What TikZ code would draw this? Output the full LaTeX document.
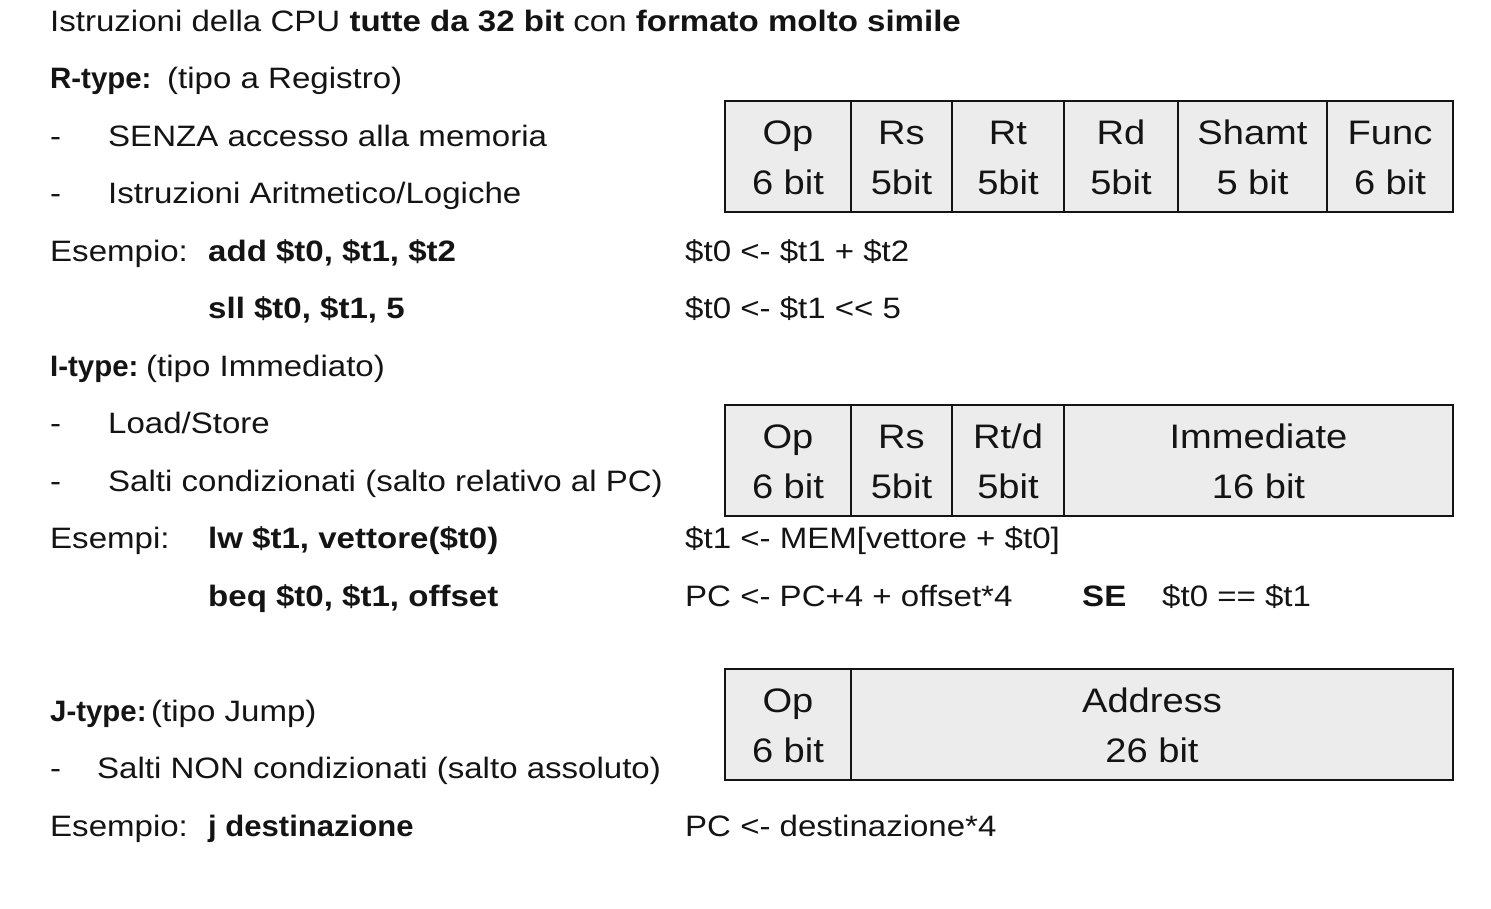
\documentclass[tikz,border=0pt]{standalone}
\usepackage{graphicx}
\usepackage{fontspec}
\setmainfont[FakeStretch=1.12]{Liberation Sans}
\usetikzlibrary{calc}
\definecolor{cellfill}{RGB}{236,236,236}
\definecolor{ink}{RGB}{20,20,20}
% bold format label, set a little narrower
\newcommand{\fmtlabel}[1]{\scalebox{0.89}[1]{\textbf{#1}}}
\begin{document}
\begin{tikzpicture}[x=1pt,y=-1pt,
  txt/.style={anchor=base west,inner sep=0pt,text=ink,font=\fontsize{29.5}{34}\selectfont},
  cell/.style={draw=ink,line width=2pt,fill=cellfill,anchor=north west,inner sep=0pt,minimum height=111pt},
  celltxt/.style={anchor=base,inner sep=0pt,text=ink,font=\fontsize{34}{40}\selectfont}]
\useasboundingbox (0,0) rectangle (1491,908);
\fill[white] (0,0) rectangle (1491,908);

% heading
\node[txt] (title) at (50,31) {Istruzioni della CPU \textbf{tutte da 32 bit} con \textbf{formato molto simile}};

% R-type
\node[txt] (rtype) at (50,88.5) {\fmtlabel{R-type:}};
\node[txt] (rtypedesc) at (167,88.5) {(tipo a Registro)};
\node[txt] (rd1) at (50,146) {-};
\node[txt] (r1) at (108,146) {SENZA accesso alla memoria};
\node[txt] (rd2) at (50,203.5) {-};
\node[txt] (r2) at (108,203.5) {Istruzioni Aritmetico/Logiche};
\node[txt] (rex) at (50,261) {Esempio:};
\node[txt] (radd) at (208,261) {\textbf{add \$t0, \$t1, \$t2}};
\node[txt] (raddsem) at (685,261) {\$t0 <- \$t1 + \$t2};
\node[txt] (rsll) at (208,318.5) {\textbf{sll \$t0, \$t1, 5}};
\node[txt] (rsllsem) at (685,318.5) {\$t0 <- \$t1 <{}< 5};

% I-type
\node[txt] (itype) at (50,376) {\fmtlabel{I-type:}};
\node[txt] (itypedesc) at (146,376) {(tipo Immediato)};
\node[txt] (id1) at (50,433.5) {-};
\node[txt] (i1) at (108,433.5) {Load/Store};
\node[txt] (id2) at (50,491) {-};
\node[txt] (i2) at (108,491) {Salti condizionati (salto relativo al PC)};
\node[txt] (iex) at (50,548.5) {Esempi:};
\node[txt] (ilw) at (208,548.5) {\textbf{lw \$t1, vettore(\$t0)}};
\node[txt] (ilwsem) at (685,548.5) {\$t1 <- MEM[vettore + \$t0]};
\node[txt] (ibeq) at (208,606) {\textbf{beq \$t0, \$t1, offset}};
\node[txt] (ibeqsem) at (685,606) {PC <- PC+4 + offset*4};
\node[txt] (ise) at (1082,606) {\textbf{SE}};
\node[txt] (icond) at (1162,606) {\$t0 == \$t1};

% J-type
\node[txt] (jtype) at (50,721) {\fmtlabel{J-type:}};
\node[txt] (jtypedesc) at (151,721) {(tipo Jump)};
\node[txt] (jd1) at (50,778.5) {-};
\node[txt] (j1) at (97,778.5) {Salti NON condizionati (salto assoluto)};
\node[txt] (jex) at (50,836) {Esempio:};
\node[txt] (jj) at (208,836) {\scalebox{0.94}[1]{\textbf{j destinazione}}};
\node[txt] (jsem) at (685,836) {PC <- destinazione*4};

% R-type instruction format
\foreach \n/\xa/\xb/\ta/\tb in {ra/724/850/Op/6 bit, rb/850/951/Rs/5bit, rc/951/1063/Rt/5bit,
    rd/1063/1177/Rd/5bit, re/1177/1326/Shamt/5 bit, rf/1326/1452/Func/6 bit}{
  \node[cell,minimum width=\xb pt-\xa pt] (\n) at (\xa,100) {};
  \node[celltxt] (\n t1) at ($(\n.north)+(0,44)$) {\ta};
  \node[celltxt] (\n t2) at ($(\n.north)+(0,94)$) {\tb};
}

% I-type instruction format
\foreach \n/\xa/\xb/\ta/\tb in {ia/724/850/Op/6 bit, ib/850/951/Rs/5bit, ic/951/1063/{Rt/d}/5bit,
    id/1063/1452/Immediate/16 bit}{
  \node[cell,minimum width=\xb pt-\xa pt] (\n) at (\xa,404) {};
  \node[celltxt] (\n t1) at ($(\n.north)+(0,44)$) {\ta};
  \node[celltxt] (\n t2) at ($(\n.north)+(0,94)$) {\tb};
}

% J-type instruction format
\foreach \n/\xa/\xb/\ta/\tb in {ja/724/850/Op/6 bit, jb/850/1452/Address/26 bit}{
  \node[cell,minimum width=\xb pt-\xa pt] (\n) at (\xa,668) {};
  \node[celltxt] (\n t1) at ($(\n.north)+(0,44)$) {\ta};
  \node[celltxt] (\n t2) at ($(\n.north)+(0,94)$) {\tb};
}
\end{tikzpicture}
\end{document}
